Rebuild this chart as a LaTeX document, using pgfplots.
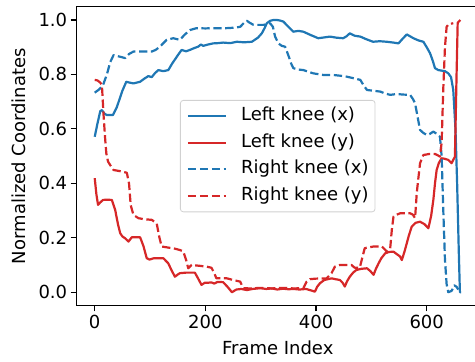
\documentclass[border=0pt]{standalone}
\usepackage{fontspec}
\setmainfont{DejaVu Sans}
\usepackage{pgfplots}
\pgfplotsset{compat=1.18}
\definecolor{tabblue}{RGB}{31,119,180}
\definecolor{tabred}{RGB}{214,39,40}
\begin{document}
\begin{tikzpicture}
\begin{axis}[
  scale only axis,
  width=403.1pt, height=299.5pt,
  xmin=-33.5, xmax=695, ymin=-0.05, ymax=1.05,
  xtick={0,200,400,600}, xticklabels={0,200,400,600},
  ytick={0,0.2,0.4,0.6,0.8,1.0}, yticklabels={0.0,0.2,0.4,0.6,0.8,1.0},
  xtick pos=bottom, ytick pos=left,
  tick align=outside, major tick length=5.5pt,
  tick style={black, line width=1.1pt},
  axis line style={line width=1.1pt},
  tick label style={font=\fontsize{18}{21}\selectfont},
  xlabel={Frame Index},
  ylabel={Normalized Coordinates},
  every axis x label/.style={at={(axis description cs:0.5,-0.140)}, anchor=center, font=\fontsize{18}{21}\selectfont},
  every axis y label/.style={at={(axis description cs:-0.1427,0.5)}, rotate=90, anchor=center, font=\fontsize{18}{21}\selectfont},
  legend image code/.code={\draw[#1] (0pt,0pt) -- (38pt,0pt);},
  legend style={at={(0.5,0.5)}, anchor=center, draw=black!18, line width=0.8pt,
    rounded corners=3pt, fill=white, fill opacity=0.8, text opacity=1,
    draw opacity=1, font=\fontsize{18}{21}\selectfont,
    inner xsep=6.5pt, inner ysep=7pt, row sep=8.5pt, column sep=14pt,
    nodes={inner sep=0pt, text height=13.5pt, text depth=4.5pt},
    cells={anchor=west}},
  every axis plot/.append style={line width=2.2pt, line join=round},
]
\addplot[tabblue] coordinates {
(0,0.571)(5,0.62)(10,0.665)(13,0.669)(18,0.655)(22,0.651)(33,0.651)(40,0.68)(50,0.74)(57,0.773)(63,0.770)(70,0.767)(76,0.770)(82,0.773)(90,0.785)(97,0.794)(103,0.790)(109,0.805)(115,0.816)(124,0.812)(133,0.816)(140,0.840)(150,0.870)(157,0.890)(165,0.885)(172,0.890)(180,0.897)(187,0.902)(192,0.910)(196,0.905)(205,0.910)(214,0.914)(223,0.915)(232,0.917)(245,0.915)(257,0.920)(270,0.918)(284,0.920)(295,0.935)(302,0.951)(307,0.970)(311,0.988)(317,0.997)(323,1.0)(329,1.0)(335,0.998)(341,0.994)(350,0.975)(359,0.957)(368,0.960)(377,0.957)(390,0.945)(404,0.933)(415,0.936)(425,0.939)(437,0.935)(449,0.933)(455,0.940)(461,0.951)(470,0.942)(480,0.939)(490,0.930)(503,0.920)(515,0.922)(528,0.920)(540,0.917)(549,0.914)(556,0.930)(564,0.947)(570,0.940)(576,0.933)(585,0.925)(594,0.920)(600,0.900)(606,0.878)(611,0.850)(615,0.823)(621,0.816)(627,0.814)(633,0.812)(639,0.804)(644,0.79)(648,0.743)(652,0.60)(655,0.40)(658,0.15)(660,0.0)(662,0.0)
};
\addlegendentry{Left knee (x)}
\addplot[tabred] coordinates {
(0,0.419)(3,0.36)(6,0.321)(10,0.330)(15,0.339)(22,0.340)(31,0.339)(37,0.302)(42,0.25)(46,0.217)(50,0.205)(55,0.198)(61,0.186)(67,0.202)(75,0.202)(82,0.202)(88,0.17)(94,0.125)(99,0.120)(107,0.125)(115,0.125)(124,0.125)(133,0.106)(139,0.08)(145,0.057)(150,0.065)(154,0.070)(165,0.072)(175,0.072)(181,0.072)(187,0.05)(193,0.027)(199,0.035)(205,0.035)(211,0.036)(216,0.032)(222,0.038)(232,0.037)(240,0.02)(248,0.0)(256,0.01)(265,0.012)(275,0.008)(285,0.012)(299,0.015)(310,0.012)(320,0.014)(330,0.010)(340,0.013)(350,0.011)(360,0.012)(370,0.010)(382,0.012)(392,0.006)(398,0.002)(402,0.02)(407,0.033)(415,0.045)(428,0.051)(435,0.048)(443,0.045)(448,0.035)(452,0.021)(456,0.040)(461,0.057)(467,0.072)(473,0.082)(482,0.086)(492,0.088)(498,0.078)(504,0.064)(508,0.085)(513,0.106)(518,0.125)(525,0.143)(532,0.148)(540,0.149)(546,0.140)(552,0.131)(555,0.118)(560,0.150)(564,0.180)(568,0.210)(573,0.241)(580,0.255)(588,0.259)(596,0.250)(603,0.235)(608,0.28)(612,0.339)(615,0.40)(618,0.449)(622,0.475)(627,0.492)(633,0.490)(639,0.486)(645,0.474)(651,0.498)(654,0.80)(656,0.99)(661,1.0)
};
\addlegendentry{Left knee (y)}
\addplot[tabblue, dash pattern=on 8.3pt off 3.6pt] coordinates {
(0,0.733)(8,0.745)(15,0.761)(22,0.80)(28,0.845)(34,0.871)(40,0.868)(46,0.865)(55,0.860)(62,0.875)(70,0.884)(85,0.884)(103,0.884)(110,0.890)(118,0.902)(124,0.915)(130,0.927)(142,0.933)(154,0.927)(162,0.945)(172,0.963)(184,0.970)(200,0.969)(214,0.970)(238,0.970)(255,0.972)(263,0.975)(270,0.990)(275,0.997)(280,0.990)(287,0.982)(305,0.982)(312,0.985)(317,0.988)(322,0.975)(326,0.939)(332,0.914)(338,0.905)(344,0.902)(350,0.870)(355,0.840)(359,0.823)(368,0.818)(377,0.816)(386,0.810)(395,0.804)(413,0.798)(431,0.798)(445,0.795)(455,0.792)(468,0.786)(480,0.780)(486,0.760)(492,0.743)(504,0.740)(516,0.737)(525,0.730)(534,0.725)(546,0.728)(558,0.726)(570,0.725)(575,0.710)(579,0.694)(583,0.650)(588,0.596)(594,0.585)(600,0.578)(606,0.582)(612,0.590)(618,0.582)(624,0.571)(627,0.50)(630,0.30)(633,0.12)(636,0.03)(639,0.0)(645,0.005)(650,0.025)(654,0.02)(657,0.01)
};
\addlegendentry{Right knee (x)}
\addplot[tabred, dash pattern=on 8.3pt off 3.6pt] coordinates {
(0,0.780)(5,0.778)(10,0.770)(13,0.761)(16,0.65)(19,0.559)(21,0.51)(24,0.48)(28,0.467)(34,0.449)(45,0.445)(58,0.439)(62,0.40)(65,0.32)(70,0.284)(79,0.272)(90,0.268)(103,0.266)(112,0.253)(117,0.20)(121,0.168)(130,0.165)(145,0.160)(154,0.155)(160,0.150)(165,0.12)(169,0.088)(175,0.100)(190,0.097)(202,0.094)(211,0.090)(216,0.07)(220,0.051)(230,0.052)(239,0.051)(250,0.045)(263,0.039)(266,0.025)(269,0.015)(280,0.014)(300,0.016)(320,0.014)(340,0.016)(360,0.014)(377,0.015)(383,0.039)(389,0.048)(400,0.050)(419,0.051)(428,0.070)(434,0.094)(443,0.100)(455,0.100)(464,0.100)(470,0.090)(479,0.090)(484,0.13)(488,0.162)(496,0.165)(504,0.168)(512,0.168)(519,0.168)(524,0.158)(528,0.149)(534,0.16)(537,0.23)(540,0.278)(546,0.285)(552,0.290)(560,0.290)(570,0.290)(575,0.285)(579,0.272)(582,0.364)(585,0.42)(588,0.474)(594,0.504)(605,0.508)(615,0.508)(620,0.503)(624,0.498)(627,0.55)(630,0.75)(633,0.90)(636,0.975)(640,0.985)(648,0.988)
};
\addlegendentry{Right knee (y)}
\coordinate (BL) at (axis cs:-171.2,-0.256);
\coordinate (TR) at (axis cs:687.3,1.0734);
\end{axis}
\pgfresetboundingbox
\useasboundingbox (BL) rectangle (TR);
\end{tikzpicture}
\end{document}
